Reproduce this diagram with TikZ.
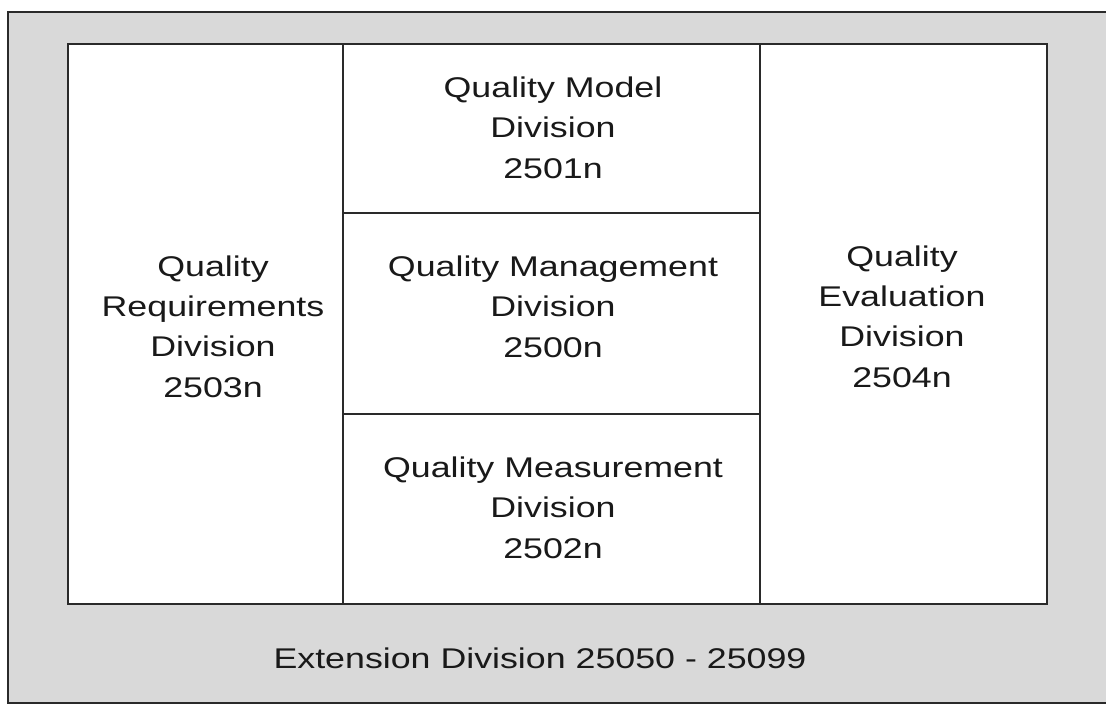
\documentclass[tikz,border=0pt]{standalone}
\usepackage{fontspec}
\setmainfont[FakeStretch=1.255]{Liberation Sans}
\definecolor{bandgray}{HTML}{D9D9D9}
\definecolor{linegray}{HTML}{2A2A2A}
\begin{document}
\begin{tikzpicture}[x=1pt,y=-1pt,
  frame/.style={draw=linegray,line width=1.6pt},
  divtext/.style={anchor=base,align=center,inner sep=0pt,text=black!90,
    font=\fontsize{28.5}{40.3}\selectfont}]
\useasboundingbox (0,0) rectangle (1106,717);
\clip (0,0) rectangle (1106,717);
% outer extension band
\draw[frame,fill=bandgray] (8,12) rectangle (1112,703);
% inner white area
\draw[frame,fill=white] (68,44) rectangle (1047,604);
\coordinate (vl) at (343,44);
\coordinate (vlb) at (343,604);
\coordinate (vr) at (760,44);
\coordinate (vrb) at (760,604);
\coordinate (h1l) at (343,213);
\coordinate (h1r) at (760,213);
\coordinate (h2l) at (343,414);
\coordinate (h2r) at (760,414);
\draw[frame] (vl) -- (vlb);
\draw[frame] (vr) -- (vrb);
\draw[frame] (h1l) -- (h1r);
\draw[frame] (h2l) -- (h2r);
% texts
\node[divtext] (req) at (213,397) {Quality\\Requirements\\Division\\2503n};
\node[divtext] (model) at (553,178) {Quality Model\\Division\\2501n};
\node[divtext] (mgmt) at (553,357) {Quality Management\\Division\\2500n};
\node[divtext] (meas) at (553,558) {Quality Measurement\\Division\\2502n};
\node[divtext] (eval) at (902,387) {Quality\\Evaluation\\Division\\2504n};
\node[divtext] (ext) at (540,668) {Extension Division 25050 - 25099};
\end{tikzpicture}
\end{document}
